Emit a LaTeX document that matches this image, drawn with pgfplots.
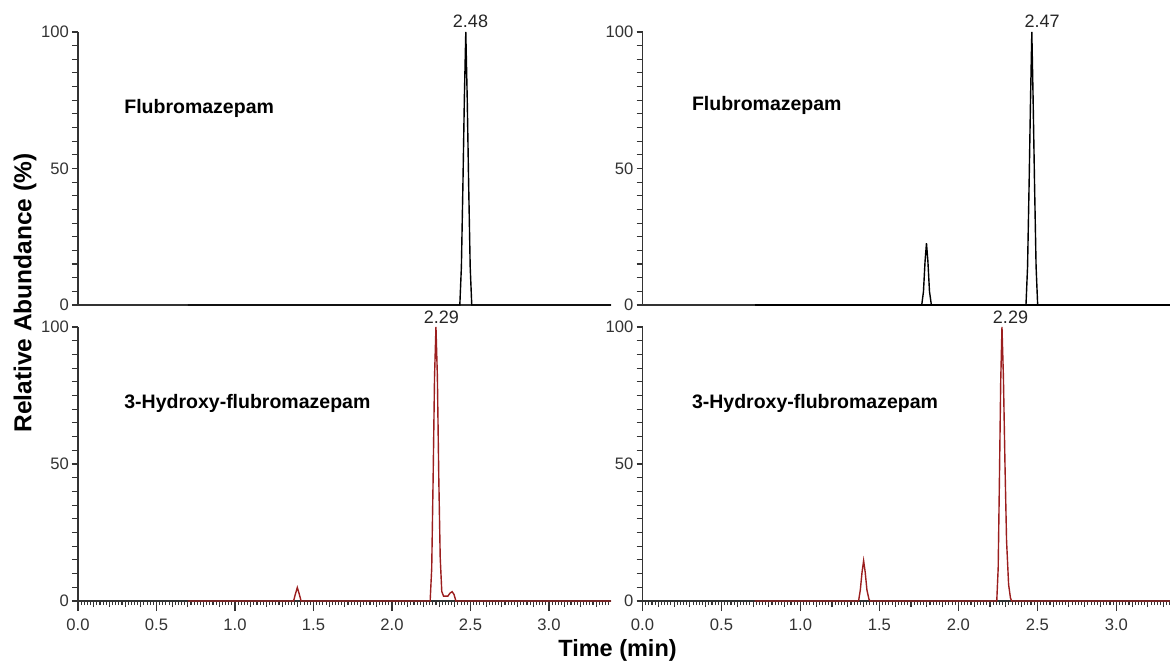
\documentclass[border=0pt]{standalone}
\usepackage{pgfplots}
\pgfplotsset{compat=1.18}
\usepackage{fontspec}
\setmainfont{Liberation Sans}
\definecolor{axgray}{HTML}{333333}
\definecolor{peakred}{RGB}{155,30,30}

\pgfplotsset{
  chrom/.style={
    scale only axis,
    axis lines*=left,
    ymin=0, ymax=100,
    ytick={0,5,...,100},
    yticklabels={0,,,,,,,,,,50,,,,,,,,,,100},
    tick align=outside,
    major tick length=3pt,
    minor tick length=2pt,
    axis line style={axgray, line width=0.65pt},
    every tick/.style={axgray, line width=0.55pt},
    tick label style={font=\fontsize{8.3}{9}\selectfont, text=axgray},
    yticklabel style={xshift=2pt},
    xticklabel style={yshift=-2.5pt},
    /pgf/number format/assume math mode=true,
    clip=false,
  },
  botx/.style={
    xtick={0,0.1,...,3.45},
    xticklabels={0.0,,,,,0.5,,,,,1.0,,,,,1.5,,,,,2.0,,,,,2.5,,,,,3.0,,,,},
    minor x tick num=4,
    extra x ticks={0,0.5,...,3.0},
    extra x tick labels={},
    extra x tick style={major tick length=5pt},
  },
  topx/.style={xtick=\empty},
}
\tikzset{
  cname/.style={font=\bfseries\fontsize{9.75}{11}\selectfont, anchor=west, inner sep=0pt},
  plabel/.style={font=\fontsize{9}{10}\selectfont, text=black!85},
}

\begin{document}
\begin{tikzpicture}
\useasboundingbox (0pt,0pt) rectangle (585pt,-331pt);

% top-left
\begin{axis}[chrom, topx, at={(39pt,-152.5pt)}, anchor=south west,
  width=266.5pt, height=136.5pt, xmin=0, xmax=3.395]
\addplot[black, line width=0.7pt] coordinates {
 (0.70,0) (2.432,0) (2.442,14) (2.452,45) (2.461,76) (2.47,100)
 (2.479,76) (2.488,45) (2.498,14) (2.508,0) (3.395,0)};
\node[cname] at (axis cs:0.293,72) {Flubromazepam};
\node[plabel] at (axis cs:2.50,103.8) {2.48};
\end{axis}

% top-right
\begin{axis}[chrom, topx, at={(321.25pt,-152.5pt)}, anchor=south west,
  width=263.75pt, height=136.5pt, xmin=0, xmax=3.34]
\addplot[black, line width=1.4pt] coordinates {(0.71,0) (3.34,0)};
\addplot[black, line width=0.7pt] coordinates {
 (1.768,0) (1.779,5) (1.789,16) (1.798,22.6) (1.807,16) (1.817,5) (1.829,0)};
\addplot[black, line width=0.7pt] coordinates {
 (2.428,0) (2.438,14) (2.448,45) (2.457,76) (2.465,100)
 (2.473,76) (2.482,45) (2.492,14) (2.502,0)};
\node[cname] at (axis cs:0.311,73) {Flubromazepam};
\node[plabel] at (axis cs:2.53,103.8) {2.47};
\end{axis}

% bottom-left
\begin{axis}[chrom, botx, at={(39pt,-300.5pt)}, anchor=south west,
  width=266.5pt, height=137pt, xmin=0, xmax=3.395]
\addplot[peakred, line width=0.7pt] coordinates {
 (0.70,0) (1.373,0) (1.385,2.6) (1.397,4.9) (1.409,2.6) (1.421,0)
 (2.243,0) (2.253,12) (2.262,45) (2.271,82) (2.28,100) (2.289,82)
 (2.298,45) (2.307,16) (2.317,3.5) (2.328,1.8) (2.356,1.8) (2.37,2.9)
 (2.383,3.4) (2.395,2.4) (2.407,0) (3.395,0)};
\node[cname] at (axis cs:0.293,72) {3-Hydroxy-flubromazepam};
\node[plabel] at (axis cs:2.315,103.6) {2.29};
\end{axis}

% bottom-right
\begin{axis}[chrom, botx, at={(321.25pt,-300.5pt)}, anchor=south west,
  width=263.75pt, height=137pt, xmin=0, xmax=3.34]
\addplot[peakred, line width=0.7pt] coordinates {
 (0.71,0) (1.368,0) (1.379,4) (1.39,10.5) (1.40,14.7) (1.41,10.5)
 (1.421,4) (1.434,0.6) (1.442,0)
 (2.243,0) (2.252,12) (2.26,45) (2.268,80) (2.276,100) (2.285,82)
 (2.295,50) (2.305,22) (2.318,6) (2.33,1) (2.338,0) (3.34,0)};
\node[cname] at (axis cs:0.311,72) {3-Hydroxy-flubromazepam};
\node[plabel] at (axis cs:2.33,103.6) {2.29};
\end{axis}

\node[rotate=90, font=\bfseries\fontsize{12.25}{14}\selectfont] at (12.5pt,-146.5pt) {Relative Abundance (\%)};
\node[font=\bfseries\fontsize{11.75}{14}\selectfont] at (308.75pt,-325pt) {Time (min)};
\end{tikzpicture}
\end{document}
